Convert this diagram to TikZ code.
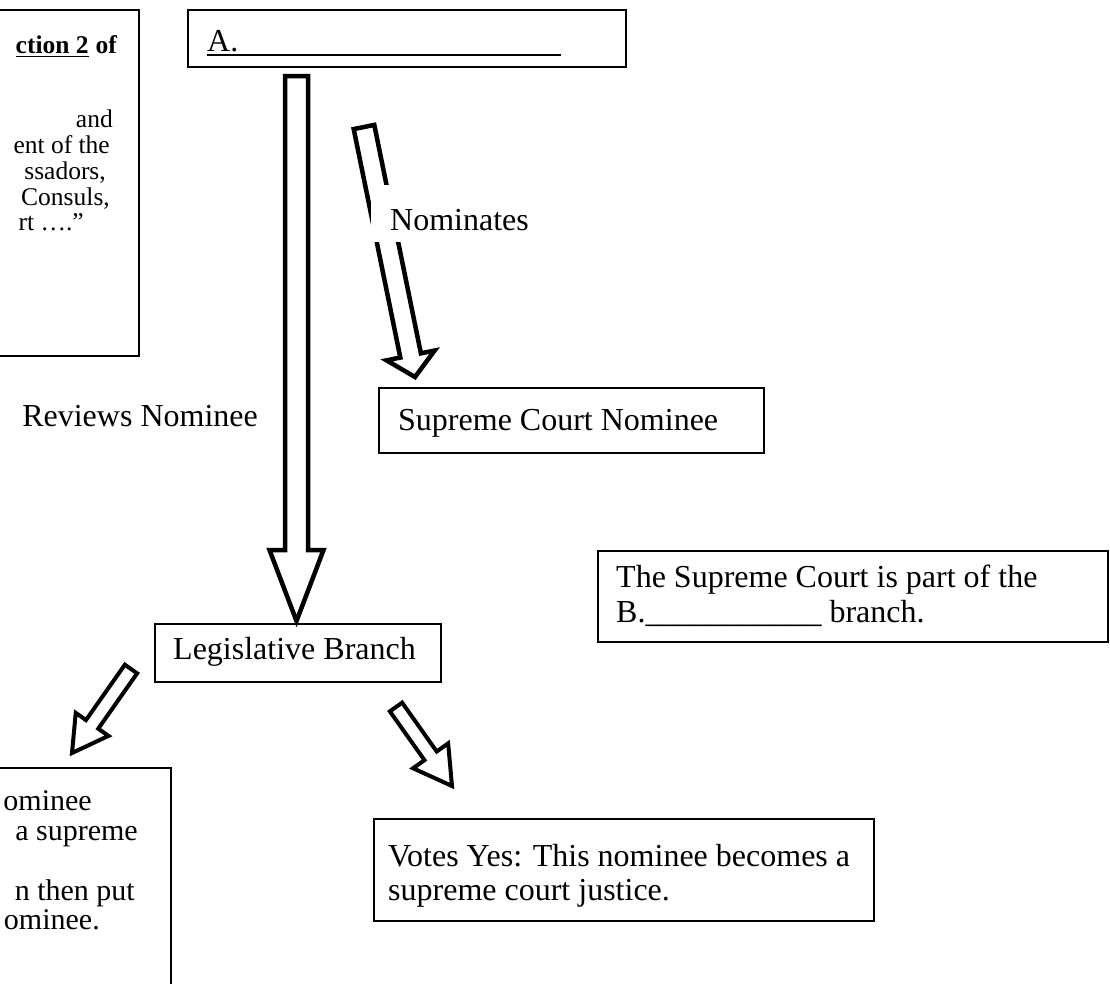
\documentclass[tikz,border=0pt]{standalone}
\usepackage{fontspec}
\setmainfont{Liberation Serif}
\usetikzlibrary{calc}
\tikzset{
  box/.style={draw=black, line width=1.6pt, inner sep=0pt},
  harrow/.style={draw=black, line width=4.5pt, line join=miter, fill=white},
  sarrow/.style={harrow, line width=4pt},
  txt/.style={inner sep=0pt, font=\fontsize{32}{34.5}\selectfont},
  qtxt/.style={inner sep=0pt, font=\fontsize{25.5}{26}\selectfont},
  ntxt/.style={inner sep=0pt, font=\fontsize{30}{31}\selectfont},
  uline/.style={line width=1.8pt},
}
\newcommand\blockarrow[6]{%
  \coordinate (ba-n) at ($(#2)!#5!(#1)$);
  \draw[#6] ($(#1)!#3!90:(#2)$) -- ($(ba-n)!#3!90:(#2)$) -- ($(ba-n)!#4!90:(#2)$)
    -- (#2) -- ($(ba-n)!#4!-90:(#2)$) -- ($(ba-n)!#3!-90:(#2)$)
    -- ($(#1)!#3!-90:(#2)$) -- cycle;}
\begin{document}
\begin{tikzpicture}[x=1pt,y=-1pt]
\useasboundingbox (0,0) rectangle (1110,983);
\clip (0,0) rectangle (1110,983);

% ---- top-left quotation box (cut by the left edge)
\node[box, anchor=north east, minimum width=170pt, minimum height=346pt] (quote) at (140,9) {};
\node[qtxt, anchor=base east] (q1of) at (117,53) {\bfseries of};
\node[qtxt, anchor=base east] (q1) at ([xshift=-6.5pt]q1of.base west) {\bfseries ction 2};
\draw[uline, line width=1.5pt] ([yshift=-3.5pt]q1.base west) -- ([yshift=-3.5pt]q1.base east);
\node[qtxt, anchor=base east] (q2) at (113,127) {and};
\node[qtxt, anchor=base east] (q3) at (110,153) {ent of the};
\node[qtxt, anchor=base east] (q4) at (106,179) {ssadors,};
\node[qtxt, anchor=base east] (q5) at (110,205) {Consuls,};
\node[qtxt, anchor=base east] (q6) at (84,230) {rt ….”};

% ---- box A
\node[box, anchor=north west, minimum width=438pt, minimum height=57pt] (boxA) at (187,9) {};
\node[txt, anchor=base west] (atxt) at (207,51) {A.};
\coordinate (aend) at (561,55);
\draw[uline] ([yshift=-4pt]atxt.base west) -- (aend);

% ---- Legislative Branch
\node[box, anchor=north west, minimum width=286pt, minimum height=58pt] (legis) at (154,623) {};
\node[txt, anchor=base west] (legistxt) at (173,659) {Legislative Branch};

% ---- big vertical arrow
\coordinate (bigtail) at (296.5,76);
\coordinate (bigtip) at ([yshift=2pt]legis.north -| bigtail);
\blockarrow{bigtail}{bigtip}{11.5pt}{27pt}{71pt}{harrow}

% ---- Nominates arrow (interrupted by its label)
\coordinate (nomtail) at (364,127);
\coordinate (nomtip) at (415,377);
\blockarrow{nomtail}{nomtip}{10.5pt}{24.5pt}{22pt}{harrow}
\node[fill=white, inner sep=0pt, anchor=north west, minimum width=177pt, minimum height=57pt] (nomback) at (371,185) {};
\node[txt, anchor=base west] (nomtxt) at (390,230) {Nominates};

% ---- Supreme Court Nominee
\node[box, anchor=north west, minimum width=385pt, minimum height=65pt] (nominee) at (378,387) {};
\node[txt, anchor=base west] (nomineetxt) at (398,430) {Supreme Court Nominee};

% ---- Reviews Nominee
\node[txt, anchor=base east] (reviews) at (258,426) {Reviews Nominee};

% ---- right box
\node[box, anchor=north west, minimum width=510pt, minimum height=91pt] (judicial) at (597,550) {};
\node[txt, anchor=base west] (j1) at (616,587) {The Supreme Court is part of the};
\node[txt, anchor=base west] (j2) at (616,622) {B.\_\_\_\_\_\_\_\_\_\_\_ branch.};

% ---- lower arrows
\coordinate (lltail) at (131,669);
\coordinate (lltip) at (72,753);
\blockarrow{lltail}{lltip}{7.5pt}{20pt}{35pt}{sarrow}
\coordinate (lrtail) at (396,707);
\coordinate (lrtip) at (452,786);
\blockarrow{lrtail}{lrtip}{7.5pt}{21.5pt}{37pt}{sarrow}

% ---- lower-left box (cut by the edges)
\node[box, anchor=north east, minimum width=200pt, minimum height=260pt] (votesno) at (172,767) {};
\node[ntxt, anchor=base east] (n1) at (92,810) {ominee};
\node[ntxt, anchor=base east] (n2) at (138,840) {a supreme};
\node[ntxt, anchor=base east] (n3) at (135,900) {n then put};
\node[ntxt, anchor=base east] (n4) at (100,929) {ominee.};

% ---- Votes Yes box
\node[box, anchor=north west, minimum width=500pt, minimum height=102pt] (votesyes) at (373,818) {};
\node[txt, anchor=base west] (y1) at (388,866) {Votes Yes: This nominee becomes a};
\node[txt, anchor=base west] (y2) at (388,900) {supreme court justice.};
\end{tikzpicture}
\end{document}
